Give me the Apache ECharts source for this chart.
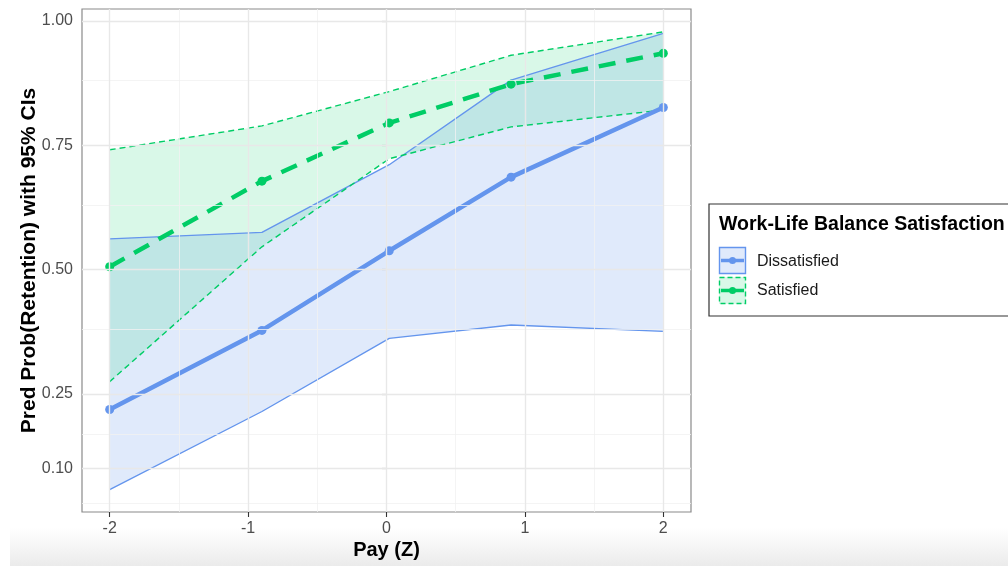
<!DOCTYPE html>
<html>
<head>
<meta charset="utf-8">
<script src="https://cdn.jsdelivr.net/npm/echarts@6/dist/echarts.min.js"></script>
<style>
html,body{margin:0;padding:0;background:#fff;}
#shade{position:absolute;left:10px;top:528px;width:998px;height:38px;background:linear-gradient(to bottom,#ffffff,#ebebeb);}
#chart{position:absolute;left:0;top:0;width:1008px;height:566px;}
</style>
</head>
<body>
<div id="shade"></div>
<div id="chart"></div>
<script>
// ---- data ----
const payZ = [-2, -0.9, 0.02, 0.9, 2];
const dissFit   = [0.219, 0.378, 0.538, 0.686, 0.826];
const dissLower = [0.058, 0.215, 0.362, 0.389, 0.376];
const dissUpper = [0.562, 0.575, 0.711, 0.881, 0.975];
const satFit    = [0.506, 0.678, 0.795, 0.873, 0.935];
const satLower  = [0.275, 0.546, 0.723, 0.787, 0.821];
const satUpper  = [0.741, 0.789, 0.858, 0.931, 0.978];
const xTicks = [-2, -1, 0, 1, 2];
const xMinor = [-1.5, -0.5, 0.5, 1.5];
const yTicks = [0.10, 0.25, 0.50, 0.75, 1.00];
const yMinor = [0.025, 0.175, 0.375, 0.625, 0.875];
const groupNames = ['Dissatisfied', 'Satisfied'];
const legendTitle = 'Work-Life Balance Satisfaction';

const BLUE = '#6495ED';
const GREEN = '#00CD66';

function pairs(xs, ys){ return xs.map((x,i)=>[x, ys[i]]); }
function ribbon(name, lo, hi, color, op){
  return {
    type:'custom', name:name, z:2, silent:true,
    data: payZ.map((x,i)=>[x, lo[i], hi[i]]),
    encode:{x:0, y:[1,2]},
    renderItem:function(params, api){
      if (params.dataIndex !== 0) return null;
      const top = [], bot = [];
      for (let i=0;i<payZ.length;i++){
        top.push(api.coord([api.value(0,i), api.value(2,i)]));
        bot.push(api.coord([api.value(0,i), api.value(1,i)]));
      }
      return {type:'polygon', shape:{points: top.concat(bot.reverse())},
              style:{fill:color, opacity:op}};
    }
  };
}
function ciLine(name, ys, color, dashed){
  return {type:'line', name:name, z:3, silent:true, data:pairs(payZ, ys),
          showSymbol:false, symbol:'none',
          lineStyle:{color:color, width:1.4, type: dashed ? [6,4] : 'solid'}};
}
function fitLine(name, ys, color, dashed){
  return {type:'line', name:name, z:4, silent:true, data:pairs(payZ, ys),
          symbol:'circle', symbolSize:9, showSymbol:true,
          itemStyle:{color:color},
          lineStyle:{color:color, width:4.5, type: dashed ? [17,11] : 'solid', cap:'butt'}};
}

const gridLines = {
  type:'line', data:[], z:1, silent:true,
  markLine:{
    silent:true, symbol:'none', animation:false, label:{show:false},
    data: [].concat(
      xMinor.map(v=>({xAxis:v, lineStyle:{color:'#f1f1f1', width:0.8, type:'solid'}})),
      yMinor.map(v=>({yAxis:v, lineStyle:{color:'#f1f1f1', width:0.8, type:'solid'}})),
      xTicks.map(v=>({xAxis:v, lineStyle:{color:'#e8e8e8', width:1.4, type:'solid'}})),
      yTicks.map(v=>({yAxis:v, lineStyle:{color:'#e8e8e8', width:1.4, type:'solid'}}))
    )
  }
};

// legend built as graphics
const LX = 709, LY = 204;
function key(y, color, dashed, op){
  return [
    {type:'rect', shape:{x:LX+10, y:y, width:27, height:27},
     style:{fill: color, opacity:op}},
    {type:'rect', shape:{x:LX+10.5, y:y+0.5, width:26, height:26},
     style:{fill:'none', stroke:color, lineWidth:1.4, lineDash: dashed ? [5,3] : null}},
    {type:'line', shape:{x1:LX+12, y1:y+13.5, x2:LX+35, y2:y+13.5},
     style:{stroke:color, lineWidth:3.5}},
    {type:'circle', shape:{cx:LX+23.5, cy:y+13.5, r:3.5}, style:{fill:color}}
  ];
}
const legendGraphic = {
  type:'group', children: [].concat(
    [{type:'rect', shape:{x:LX, y:LY, width:310, height:112},
      style:{fill:'#fff', stroke:'#333', lineWidth:1.2}},
     {type:'text', x:LX+10, y:LY+21, style:{text:legendTitle, fill:'#000',
      font:'bold 19.5px "Liberation Sans", Arial, sans-serif', verticalAlign:'middle'}}],
    key(LY+43, BLUE, false, 0.2),
    key(LY+73, GREEN, true, 0.15),
    [{type:'text', x:LX+48, y:LY+57.5, style:{text:groupNames[0], fill:'#1a1a1a',
      font:'16px "Liberation Sans", Arial, sans-serif', verticalAlign:'middle'}},
     {type:'text', x:LX+48, y:LY+87, style:{text:groupNames[1], fill:'#1a1a1a',
      font:'16px "Liberation Sans", Arial, sans-serif', verticalAlign:'middle'}}]
  )
};

const chart = echarts.init(document.getElementById('chart'), null, {renderer:'canvas'});
chart.setOption({
  backgroundColor:'transparent',
  animation:false,
  textStyle:{fontFamily:'"Liberation Sans", Arial, sans-serif'},
  grid:{left:82, top:9, width:609, height:503, show:true, borderColor:'#8a8a8a', borderWidth:1.2, backgroundColor:'transparent'},
  xAxis:{
    type:'value', min:-2.2, max:2.2,
    name:'Pay (Z)', nameLocation:'middle', nameGap:28, nameMoveOverlap:false,
    nameTextStyle:{fontWeight:'bold', fontSize:20, color:'#000'},
    axisLine:{show:false},
    axisTick:{show:true, length:5, customValues:xTicks, lineStyle:{color:'#333', width:1.1}},
    axisLabel:{customValues:xTicks, fontSize:16, color:'#4d4d4d', margin:9,
      formatter:v=>String(Math.round(v))},
    splitLine:{show:false}
  },
  yAxis:{
    type:'value', min:0.013, max:1.024,
    name:'Pred Prob(Retention) with 95% CIs', nameLocation:'middle', nameGap:42,
    nameRotate:90, nameMoveOverlap:false,
    nameTextStyle:{fontWeight:'bold', fontSize:21, color:'#000'},
    axisLine:{show:false},
    axisTick:{show:true, length:5, customValues:yTicks, lineStyle:{color:'#333', width:1.1}},
    axisLabel:{customValues:yTicks, fontSize:16, color:'#4d4d4d', margin:9,
      formatter:v=>v.toFixed(2)},
    splitLine:{show:false}
  },
  graphic:[legendGraphic],
  series:[
    gridLines,
    ribbon(groupNames[0]+' CI', dissLower, dissUpper, BLUE, 0.2),
    ribbon(groupNames[1]+' CI', satLower, satUpper, GREEN, 0.15),
    ciLine(groupNames[0]+' lower', dissLower, BLUE, false),
    ciLine(groupNames[0]+' upper', dissUpper, BLUE, false),
    ciLine(groupNames[1]+' lower', satLower, GREEN, true),
    ciLine(groupNames[1]+' upper', satUpper, GREEN, true),
    fitLine(groupNames[0], dissFit, BLUE, false),
    fitLine(groupNames[1], satFit, GREEN, true)
  ]
});
</script>
</body>
</html>
